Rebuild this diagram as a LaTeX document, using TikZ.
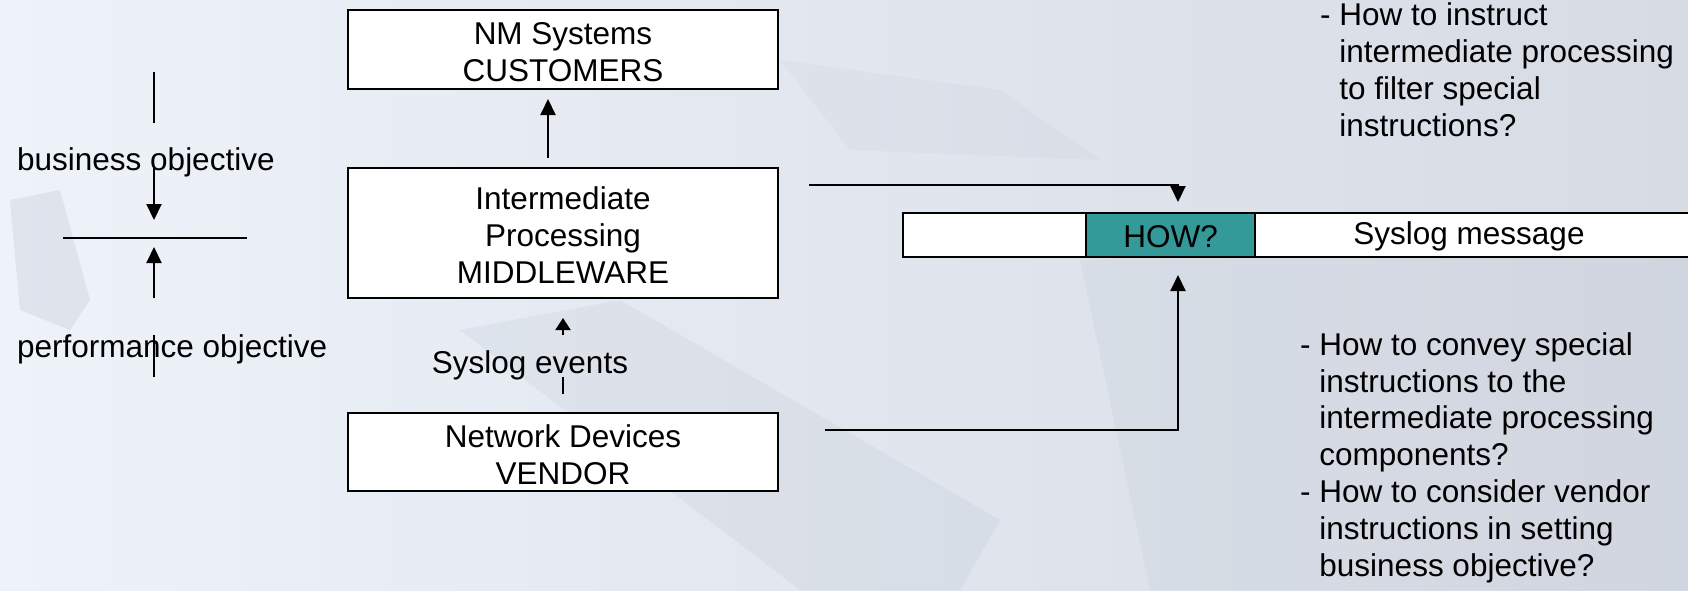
\documentclass[tikz,border=0pt]{standalone}
\usepackage{fontspec}
\setmainfont{Liberation Sans}
\usetikzlibrary{arrows.meta}
\definecolor{bgL}{RGB}{238,243,250}
\definecolor{bgR}{RGB}{214,219,228}
\definecolor{blob}{RGB}{170,178,192}
\definecolor{teal}{RGB}{51,153,153}
\begin{document}
\begin{tikzpicture}[x=1pt,y=-1pt,
  txt/.style={font=\fontsize{31.5}{37}\selectfont, inner sep=0pt},
  bigbox/.style={draw=black, line width=2pt, fill=white, minimum width=430pt, inner sep=0pt},
  boxtext/.style={txt, align=center},
  conn/.style={line width=2pt, -{Triangle[length=16pt,width=15pt]}},
  shortconn/.style={line width=2pt, -{Triangle[length=12pt,width=15pt]}},
  plain/.style={line width=2pt},
  notes/.style={txt, align=left, font=\fontsize{31.5}{36.8}\selectfont}]
\useasboundingbox (0,0) rectangle (1688,590);
% background
\fill[left color=bgL, right color=bgR] (0,0) rectangle (1688,590);
\fill[blob, opacity=0.22] (10,200) -- (60,190) -- (90,300) -- (70,330) -- (20,310) -- cycle;
\fill[blob, opacity=0.15] (460,330) -- (620,300) -- (1000,520) -- (960,590) -- (800,590) -- cycle;
\fill[blob, opacity=0.12] (1080,260) -- (1688,240) -- (1688,590) -- (1150,590) -- cycle;
\fill[blob, opacity=0.10] (780,60) -- (1000,90) -- (1100,160) -- (850,150) -- cycle;

% left side
\node[txt, anchor=base west] (bo) at (17,170) {business objective};
\node[txt, anchor=base west] (po) at (17,357) {performance objective};
\coordinate (l1a) at (154,72);
\coordinate (l1b) at (154,123);
\coordinate (a1s) at (154,167);
\coordinate (a1e) at (154,220);
\coordinate (hl) at (63,238);
\coordinate (hr) at (247,238);
\coordinate (a2s) at (154,298);
\coordinate (a2e) at (154,247);
\coordinate (l2a) at (154,335);
\coordinate (l2b) at (154,377);
\draw[plain] (l1a) -- (l1b);
\draw[conn] (a1s) -- (a1e);
\draw[plain] (hl) -- (hr);
\draw[conn] (a2s) -- (a2e);
\draw[plain] (l2a) -- (l2b);

% center column
\node[bigbox, minimum height=79pt] (nm) at (563,49.5) {};
\node[boxtext] (nmt) at (563,52.5) {NM Systems\\CUSTOMERS};
\node[bigbox, minimum height=130pt] (mid) at (563,233) {};
\node[boxtext] (midt) at (563,235) {Intermediate\\Processing\\MIDDLEWARE};
\node[bigbox, minimum height=78pt] (net) at (563,452) {};
\node[boxtext] (nett) at (563,455) {Network Devices\\VENDOR};
\node[txt, anchor=base] (se) at (530,373) {Syslog events};
\draw[conn] ([shift={(-15,-9)}]mid.north) -- ([shift={(-15,9)}]nm.south);
\draw[shortconn] ([shift={(0,36)}]mid.south) -- ([shift={(0,19)}]mid.south);
\draw[plain] ([shift={(0,-18)}]net.north) -- ([shift={(0,-35)}]net.north);

% message bar
\node[txt, draw=black, line width=2pt, fill=white, minimum width=800pt,
      minimum height=44pt, anchor=north west] (bar) at (902,212) {};
\node[draw=black, line width=2pt, fill=teal, minimum width=169pt,
      minimum height=44pt, inner sep=0pt, anchor=north west] (how) at (1085,212) {};
\node[txt] (howt) at ([yshift=-2pt]how.center) {HOW?};
\node[txt] (msg) at (1469,236) {Syslog message};
\coordinate (midout) at (809,185);
\coordinate (netout) at (825,430);
\draw[conn] (midout) -| ([shift={(7.5,-10)}]how.north);
\draw[conn] (netout) -| ([shift={(7.5,17)}]how.south);

% notes (base anchor = baseline of last line)
\node[notes, anchor=base west] (q1) at (1320,136)
  {- How to instruct\\\hphantom{- }intermediate processing\\\hphantom{- }to filter special\\\hphantom{- }instructions?};
\node[notes, anchor=base west] (q2) at (1300,576)
  {- How to convey special\\\hphantom{- }instructions to the\\\hphantom{- }intermediate processing\\\hphantom{- }components?\\- How to consider vendor\\\hphantom{- }instructions in setting\\\hphantom{- }business objective?};
\end{tikzpicture}
\end{document}
